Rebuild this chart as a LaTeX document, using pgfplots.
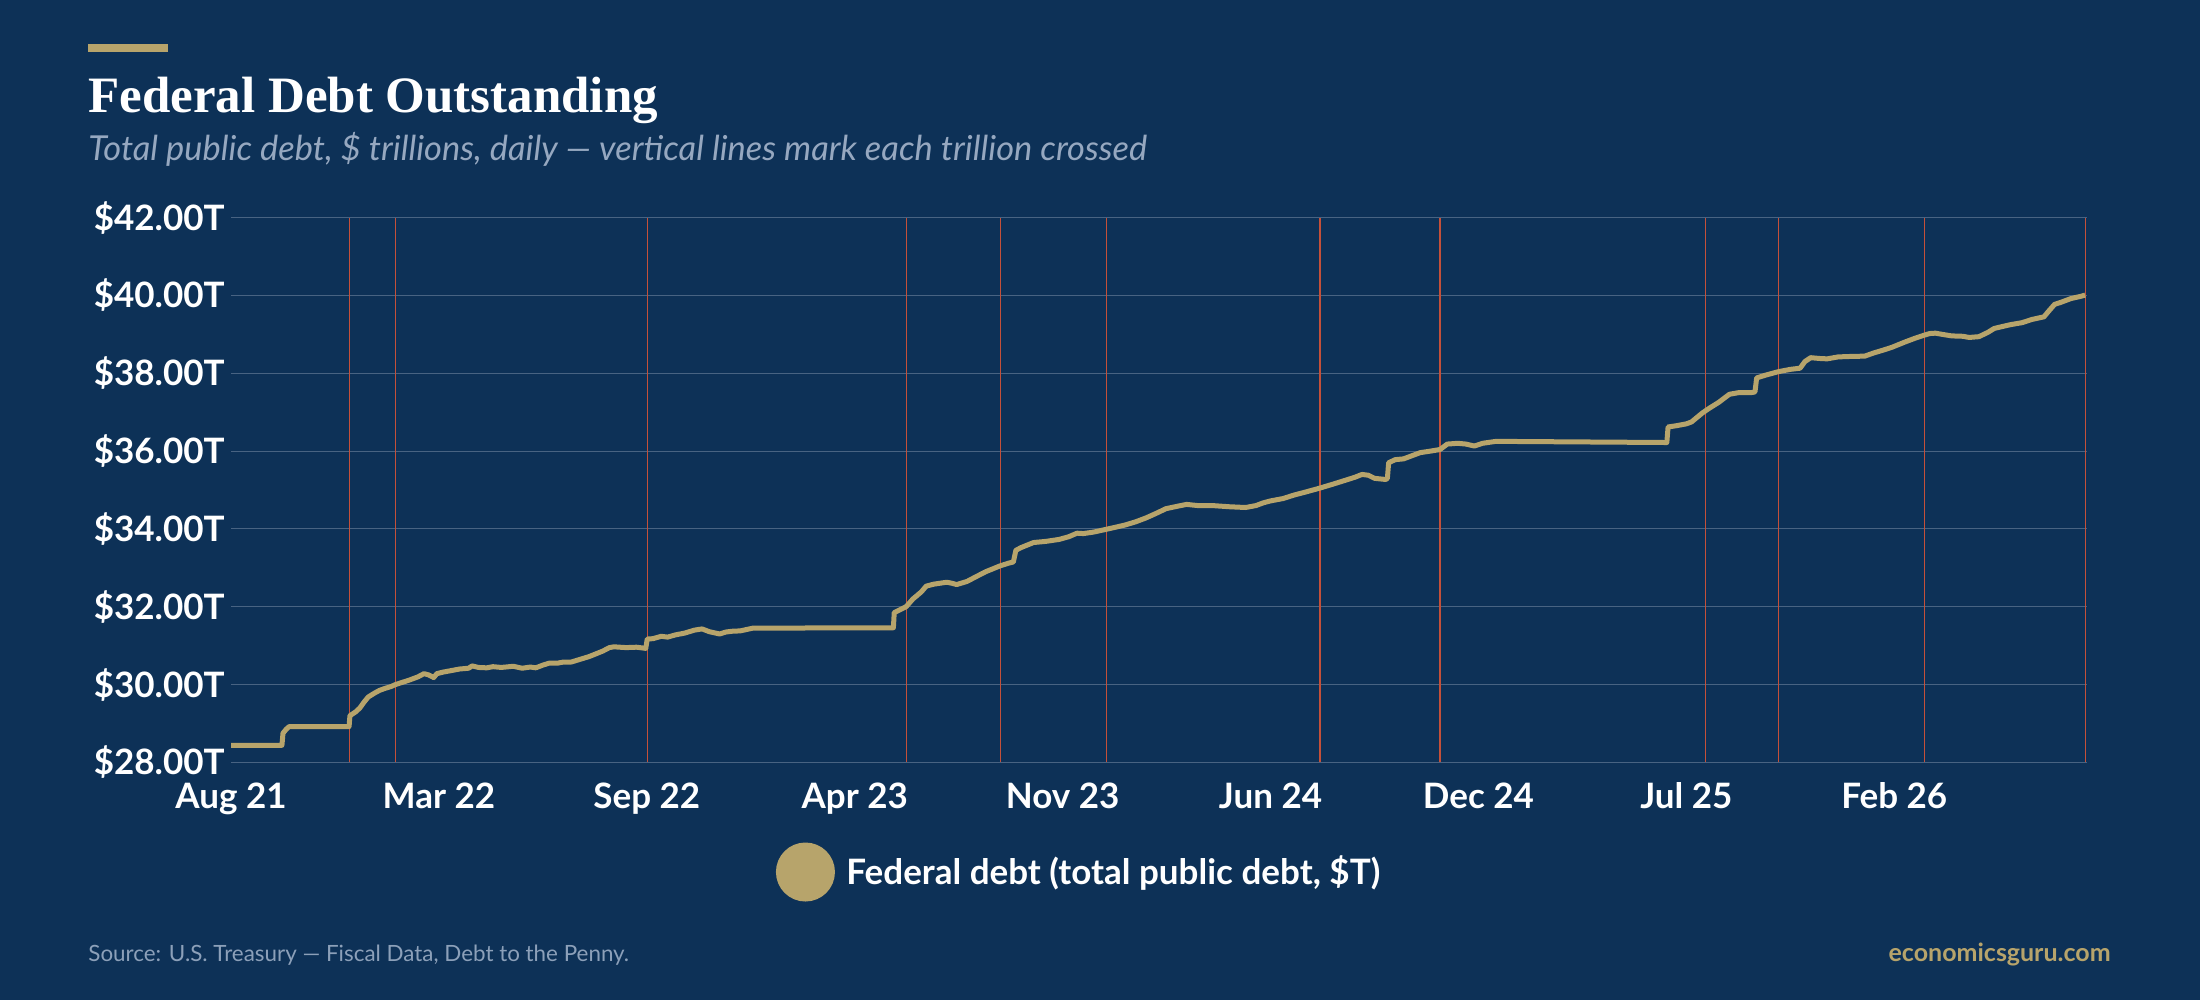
\documentclass[border=0pt]{standalone}
\usepackage{pgfplots}
\pgfplotsset{compat=1.18}
\usepackage{fontspec}
\setmainfont{Lato}
\newfontfamily\titlefont{Liberation Serif}
\definecolor{bg}{RGB}{13,49,87}
\definecolor{gold}{RGB}{183,164,107}
\definecolor{gridc}{RGB}{72,99,130}
\definecolor{redl}{RGB}{196,80,58}
\definecolor{subc}{RGB}{150,168,192}
\definecolor{srcc}{RGB}{140,160,185}

\pgfplotstableread{
x y
0.000 28.44
0.245 28.44
0.250 28.75
0.265 28.85
0.280 28.92
0.568 28.92
0.572 29.20
0.600 29.30
0.620 29.40
0.640 29.55
0.660 29.68
0.690 29.78
0.714 29.85
0.740 29.90
0.770 29.95
0.791 30.00
0.820 30.05
0.860 30.12
0.900 30.20
0.928 30.28
0.950 30.25
0.975 30.18
0.990 30.28
1.020 30.32
1.060 30.36
1.100 30.40
1.143 30.42
1.160 30.48
1.190 30.44
1.230 30.43
1.260 30.46
1.300 30.44
1.358 30.47
1.400 30.42
1.440 30.45
1.466 30.43
1.500 30.50
1.530 30.55
1.570 30.55
1.600 30.58
1.637 30.58
1.680 30.65
1.723 30.72
1.760 30.80
1.788 30.86
1.820 30.95
1.842 30.97
1.900 30.95
1.950 30.96
1.995 30.93
2.002 31.17
2.030 31.18
2.069 31.24
2.100 31.22
2.140 31.28
2.180 31.32
2.230 31.40
2.266 31.43
2.300 31.36
2.350 31.30
2.380 31.35
2.410 31.37
2.450 31.38
2.510 31.45
3.186 31.46
3.190 31.85
3.247 32.00
3.280 32.20
3.320 32.38
3.344 32.53
3.380 32.58
3.443 32.63
3.470 32.60
3.490 32.57
3.540 32.65
3.590 32.79
3.630 32.90
3.699 33.05
3.740 33.12
3.763 33.15
3.775 33.45
3.800 33.52
3.860 33.65
3.920 33.68
3.983 33.73
4.030 33.80
4.069 33.89
4.100 33.88
4.150 33.92
4.210 33.99
4.260 34.05
4.300 34.10
4.350 34.18
4.400 34.28
4.450 34.40
4.497 34.52
4.550 34.58
4.596 34.63
4.650 34.60
4.720 34.60
4.800 34.57
4.880 34.55
4.930 34.60
4.965 34.67
5.000 34.72
5.060 34.78
5.113 34.87
5.170 34.95
5.238 35.05
5.300 35.15
5.360 35.25
5.407 35.33
5.440 35.40
5.470 35.38
5.500 35.30
5.554 35.27
5.562 35.30
5.568 35.70
5.600 35.78
5.640 35.80
5.680 35.88
5.720 35.96
5.770 36.00
5.815 36.04
5.850 36.18
5.900 36.20
5.940 36.18
5.980 36.13
6.020 36.20
6.084 36.25
6.906 36.22
6.912 36.62
6.950 36.65
7.000 36.70
7.025 36.75
7.077 36.98
7.110 37.10
7.155 37.25
7.207 37.46
7.250 37.50
7.310 37.50
7.330 37.52
7.338 37.88
7.380 37.95
7.442 38.04
7.500 38.10
7.547 38.13
7.570 38.30
7.598 38.40
7.640 38.38
7.677 38.37
7.730 38.42
7.780 38.43
7.858 38.44
7.900 38.52
7.950 38.60
7.990 38.67
8.050 38.80
8.100 38.90
8.145 38.98
8.170 39.02
8.198 39.03
8.230 39.00
8.276 38.96
8.330 38.95
8.360 38.92
8.407 38.94
8.450 39.05
8.480 39.15
8.511 39.19
8.560 39.25
8.615 39.30
8.660 39.38
8.720 39.45
8.740 39.58
8.771 39.77
8.800 39.82
8.850 39.92
8.900 39.98
8.918 40.01
}\debt

\pgfplotstableread{
x y
0.570 42
0.791 42
2.002 42
3.250 42
3.699 42
4.212 42
5.238 42
5.815 42
7.093 42
7.442 42
8.146 42
8.918 42
}\crossings

\begin{document}
\begin{tikzpicture}
\useasboundingbox (0,0) rectangle (1100bp,500bp);
\fill[bg] (0,0) rectangle (1100bp,500bp);
\fill[gold] (44bp,474.2bp) rectangle (84bp,478bp);
\node[anchor=base west, inner sep=0pt, text=white, font=\titlefont\bfseries\fontsize{25.5bp}{30bp}\selectfont] at (44bp,443.5bp) {Federal Debt Outstanding};
\node[anchor=base west, inner sep=0pt, text=subc, font=\itshape\fontsize{17.2bp}{20bp}\selectfont] at (44bp,419.6bp) {Total public debt, \$ trillions, daily — vertical lines mark each trillion crossed};

\begin{axis}[
  at={(115.5bp,118.8bp)}, anchor=south west,
  scale only axis, width=928bp, height=272.4bp,
  xmin=0, xmax=8.927, ymin=28, ymax=42,
  axis line style={draw=none}, tick style={draw=none},
  ymajorgrids, grid style={gridc, line width=0.5bp},
  ytick={28,30,32,34,36,38,40,42},
  yticklabels={\$28.00T,\$30.00T,\$32.00T,\$34.00T,\$36.00T,\$38.00T,\$40.00T,\$42.00T},
  xtick={0,1,2,3,4,5,6,7,8},
  xticklabels={Aug 21,Mar 22,Sep 22,Apr 23,Nov 23,Jun 24,Dec 24,Jul 25,Feb 26},
  ticklabel style={font=\bfseries\fontsize{17.5bp}{20bp}\selectfont, text=white},
  yticklabel style={anchor=east, inner sep=0pt, xshift=-3bp},
  xticklabel style={anchor=north, inner sep=0pt, yshift=-10bp},
  legend style={at={(0.2934,-0.2012)}, anchor=west, draw=none, fill=none,
    text=white, font=\bfseries\fontsize{17.5bp}{20bp}\selectfont,
    inner sep=0pt, nodes={inner sep=0pt}},
  legend image code/.code={\fill[gold] (13.5bp,0) circle (13.5bp);},
  legend cell align=left,
]
\addplot[redl, line width=0.55bp, ycomb, no marks, forget plot] table[x=x,y=y] {\crossings};
\addplot[gold, line width=2.5bp, no marks, line join=round] table[x=x,y=y] {\debt};
\addlegendentry{\hspace{5.75bp}Federal debt (total public debt, \$T)}
\end{axis}

\node[anchor=base west, inner sep=0pt, text=srcc, font=\fontsize{11.2bp}{13bp}\selectfont] at (44bp,19.2bp) {Source: U.S. Treasury — Fiscal Data, Debt to the Penny.};
\node[anchor=base east, inner sep=0pt, text=gold, font=\bfseries\fontsize{12.5bp}{15bp}\selectfont] at (1055.5bp,19.2bp) {economicsguru.com};
\end{tikzpicture}
\end{document}
